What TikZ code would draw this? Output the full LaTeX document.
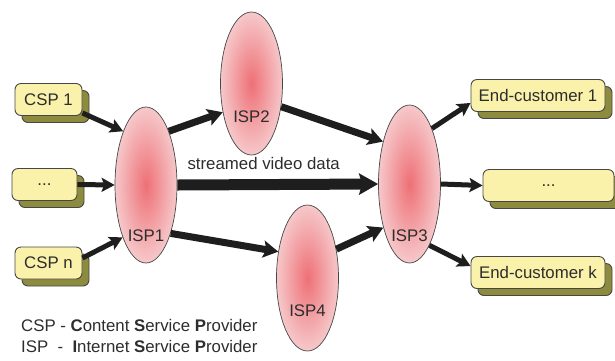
\documentclass[tikz,border=0pt]{standalone}
\usepackage{fontspec}
\setmainfont{Liberation Sans}
\usetikzlibrary{positioning,shapes.geometric,shadows,arrows.meta}

\definecolor{boxfill}{RGB}{250,241,170}
\definecolor{boxshade}{RGB}{141,140,62}
\definecolor{edgegray}{RGB}{70,70,70}
\definecolor{ispcore}{RGB}{238,112,118}
\definecolor{isprim}{RGB}{246,200,202}
\definecolor{flowblack}{RGB}{30,30,30}
\definecolor{txtgray}{RGB}{45,45,45}

\begin{document}
\begin{tikzpicture}[x=1pt,y=-1pt,font=\fontsize{16.8}{19}\selectfont,text=txtgray,
  party/.style={draw=edgegray,line width=.9pt,fill=boxfill,rounded corners=6pt,
    minimum width=#1,minimum height=32pt,inner sep=0pt,
    general shadow={fill=boxshade,draw=edgegray,line width=.9pt,shadow xshift=7pt,shadow yshift=-7pt}},
  isp/.style={ellipse,draw=edgegray,line width=.7pt,inner color=ispcore,outer color=isprim,
    minimum width=62pt,inner sep=0pt},
  flow/.style={draw=flowblack,line width=5pt,-{Stealth[length=13pt,width=14pt,inset=2.5pt]}},
  flowm/.style={draw=flowblack,line width=7pt,-{Stealth[length=15pt,width=17pt,inset=3pt]}},
  flowb/.style={draw=flowblack,line width=11pt,-{Stealth[length=19pt,width=21pt,inset=3pt]}}]
  \useasboundingbox (0,0) rectangle (615,360);

  % providers and customers
  \node[party=67pt] (csp1) at (48.5,99.5) {CSP 1};
  \node[party=65pt] (cspdots) at (44.5,184.5) {...};
  \node[party=67pt] (cspn) at (48.5,263) {CSP n};
  \node[party=134pt] (end1) at (538,95.5) {End-customer 1};
  \node[party=131pt] (enddots) at (548.5,185.5) {...};
  \node[party=134pt] (endk) at (538,272.5) {End-customer k};

  % the ISP clouds
  \node[isp,minimum height=156pt,label={[name=isp1t,yshift=-51pt]center:ISP1}] (isp1) at (146,185) {};
  \node[isp,minimum height=143pt,label={[name=isp2t,yshift=-33pt]center:ISP2}] (isp2) at (251.5,83.5) {};
  \node[isp,minimum height=158pt,label={[name=isp3t,yshift=-52pt]center:ISP3}] (isp3) at (409.5,184) {};
  \node[isp,minimum height=146pt,label={[name=isp4t,yshift=-33pt]center:ISP4}] (isp4) at (307.5,278) {};

  % streams
  \draw[flow] ([yshift=3pt]csp1.south east) -- (isp1.113);
  \draw[flow] (cspdots.east) -- (isp1.west);
  \draw[flow] ([yshift=5pt]cspn.east) -- (isp1.246);
  \draw[flowm] (isp1.67) -- (isp2.225);
  \draw[flowm] (isp2.-38) -- (isp3.122);
  \draw[flowb] (isp1.east) -- node[pos=.43,above=6pt,name=vidlabel]{streamed video data} (isp3.west);
  \draw[flowm] (isp1.-63) -- (isp4.138);
  \draw[flowm] (isp4.45) -- (isp3.239);
  \draw[flow] (isp3.68) -- ([yshift=9pt]end1.south west);
  \draw[flow] (isp3.east) -- (enddots.west);
  \draw[flow] (isp3.-72) -- ([yshift=-10pt]endk.north west);

  % legend
  \node[anchor=base west,inner sep=0pt] (keycsp) at (21,331) {CSP - \textbf{C}ontent \textbf{S}ervice \textbf{P}rovider};
  \node[anchor=base west,inner sep=0pt] (keyisp) at (21,352) {ISP\ \ -\ \ \textbf{I}nternet \textbf{S}ervice \textbf{P}rovider};
\end{tikzpicture}
\end{document}
